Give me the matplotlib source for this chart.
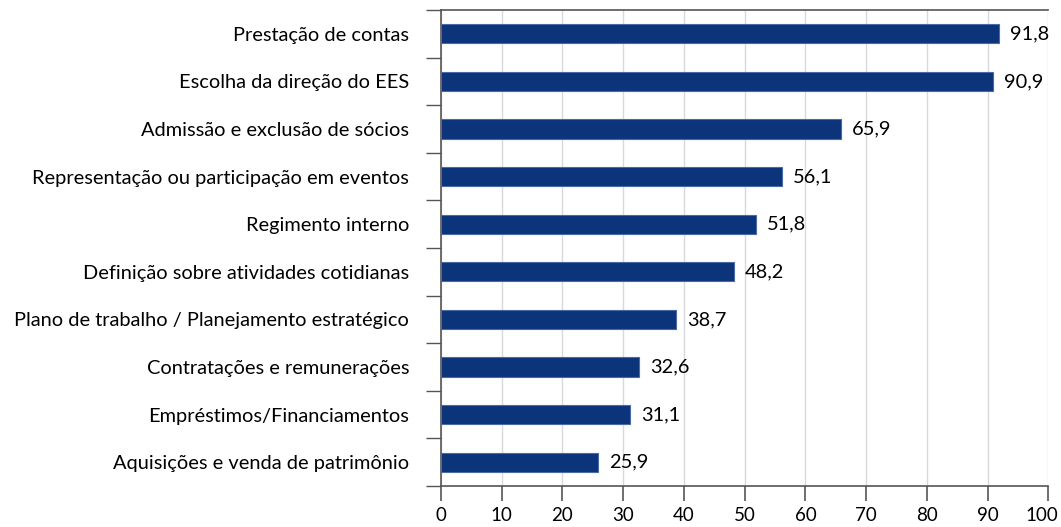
import numpy as np
import matplotlib.pyplot as plt
import matplotlib.transforms as mtransforms
from matplotlib.ticker import FixedLocator

plt.rcParams['font.family'] = ['Lato', 'DejaVu Sans']

categorias = ['Prestação de contas',
              'Escolha da direção do EES',
              'Admissão e exclusão de sócios',
              'Representação ou participação em eventos',
              'Regimento interno',
              'Definição sobre atividades cotidianas',
              'Plano de trabalho / Planejamento estratégico',
              'Contratações e remunerações',
              'Empréstimos/Financiamentos',
              'Aquisições e venda de patrimônio']
valores = [91.8, 90.9, 65.9, 56.1, 51.8, 48.2, 38.7, 32.6, 31.1, 25.9]
xticks = [0, 10, 20, 30, 40, 50, 60, 70, 80, 90, 100]

fs = 14.4

fig = plt.figure(figsize=(10.61, 5.27), dpi=100)
ax = fig.add_axes([441/1061, 1-486/527, (1048.3-441)/1061, (486-10)/527])

n = len(categorias)
y = np.arange(n)[::-1]
ax.barh(y, valores, height=0.4, color='#0c347a', edgecolor='#4a6aa5', linewidth=0.8, zorder=3)

for yi, v in zip(y, valores):
    ax.annotate(('%.1f' % v).replace('.', ','), xy=(v, yi), xytext=(8, 0),
                textcoords='offset points', va='center', ha='left', fontsize=fs)

ax.set_xlim(0, 100)
ax.set_ylim(-0.5, n-0.5)
ax.set_xticks(xticks)
ax.set_xticklabels([str(t) for t in xticks])
ax.set_yticks(y)
ax.set_yticklabels(categorias)
ax.yaxis.set_minor_locator(FixedLocator(np.arange(-0.5, n, 1.0)))

ax.grid(axis='x', color='#d9d9d9', linewidth=1, zorder=0)
ax.set_axisbelow(True)

ax.tick_params(axis='y', which='major', length=0, pad=23, labelsize=fs)
ax.tick_params(axis='y', which='minor', length=11, width=1, color='#555555', direction='out')
ax.tick_params(axis='x', which='major', length=11, width=1.2, color='#555555', pad=4, labelsize=13.5)

# o "100" fica um pouco para dentro
lab = ax.get_xticklabels()[-1]
lab.set_transform(lab.get_transform() + mtransforms.ScaledTranslation(-6/100, 0, fig.dpi_scale_trans))

for s in ['left', 'bottom', 'top']:
    ax.spines[s].set_color('#555555')
    ax.spines[s].set_linewidth(1.2)
ax.spines['right'].set_visible(False)

fig.savefig('out.png', dpi=100)
